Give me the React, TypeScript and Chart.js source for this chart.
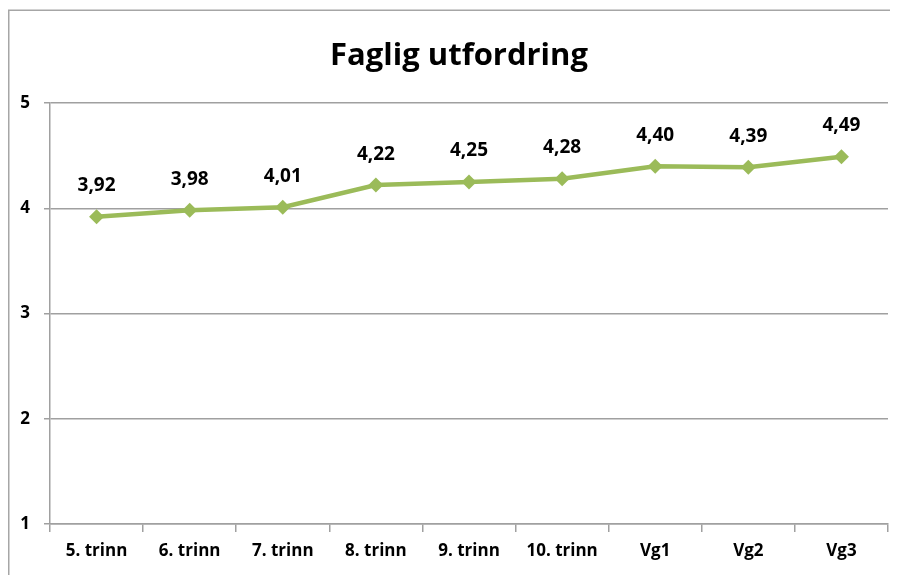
import React, { useEffect, useRef } from "react";
import { Chart, registerables } from "chart.js";

Chart.register(...registerables);

const categories = ["5. trinn", "6. trinn", "7. trinn", "8. trinn", "9. trinn", "10. trinn", "Vg1", "Vg2", "Vg3"];
const values = [3.92, 3.98, 4.01, 4.22, 4.25, 4.28, 4.4, 4.39, 4.49];
const titleText = "Faglig utfordring";
const yMin = 1;
const yMax = 5;

const FONT = "'Open Sans', 'Noto Sans', sans-serif";
const GREEN = "#9BBB59";
const GRID = "#a0a0a0";

const framePlugin = {
  id: "frame",
  beforeDraw(chart: any) {
    const ctx = chart.ctx;
    ctx.save();
    ctx.strokeStyle = "#a6a6a6";
    ctx.lineWidth = 1.5;
    ctx.beginPath();
    ctx.moveTo(0.75, chart.height);
    ctx.lineTo(0.75, 2.25);
    ctx.lineTo(chart.width, 2.25);
    ctx.stroke();
    ctx.restore();
  },
};

const titlePlugin = {
  id: "customTitle",
  afterDraw(chart: any) {
    const ctx = chart.ctx;
    ctx.save();
    ctx.font = `bold 31px ${FONT}`;
    ctx.fillStyle = "#000";
    ctx.textAlign = "center";
    ctx.textBaseline = "middle";
    ctx.fillText(titleText, 451, 48);
    ctx.restore();
  },
};

const labelPlugin = {
  id: "valueLabels",
  afterDatasetsDraw(chart: any) {
    const ctx = chart.ctx;
    const meta = chart.getDatasetMeta(0);
    ctx.save();
    ctx.font = `bold 19px ${FONT}`;
    ctx.fillStyle = "#000";
    ctx.textAlign = "center";
    ctx.textBaseline = "middle";
    meta.data.forEach((pt: any, i: number) => {
      const v = chart.data.datasets[0].data[i] as number;
      ctx.fillText(v.toFixed(2).replace(".", ","), pt.x, pt.y - 31);
    });
    ctx.restore();
  },
};

export default function App() {
  const ref = useRef<HTMLCanvasElement>(null);
  useEffect(() => {
    if (!ref.current) return;
    const chart = new Chart(ref.current, {
      type: "line",
      data: {
        labels: categories,
        datasets: [
          {
            data: values,
            borderColor: GREEN,
            backgroundColor: GREEN,
            borderWidth: 4.5,
            pointStyle: "rectRot",
            pointRadius: 7.5,
            pointBackgroundColor: GREEN,
            pointBorderColor: GREEN,
            pointBorderWidth: 0,
            tension: 0,
          },
        ],
      },
      options: {
        animation: false,
        responsive: true,
        maintainAspectRatio: false,
        layout: { padding: { left: 0, right: 10, top: 95, bottom: 0 } },
        plugins: {
          legend: { display: false },
          tooltip: { enabled: false },
          title: { display: false },
        },
        scales: {
          x: {
            offset: true,
            grid: {
              display: true,
              drawOnChartArea: false,
              drawTicks: true,
              tickLength: 8,
              color: GRID,
              lineWidth: 1.5,
              offset: true,
            },
            border: { display: true, color: GRID, width: 1.5 },
            ticks: {
              color: "#000",
              padding: 9,
              font: { family: FONT, size: 17, weight: "bold" },
              maxRotation: 0,
            },
            afterFit(scale: any) {
              scale.height = 51;
            },
          },
          y: {
            min: yMin,
            max: yMax,
            ticks: {
              stepSize: 1,
              color: "#000",
              padding: 14,
              font: { family: FONT, size: 17, weight: "bold" },
            },
            grid: { color: GRID, lineWidth: 1.5, tickLength: 6 },
            border: { display: true, color: GRID, width: 1.5 },
            afterFit(scale: any) {
              scale.width = 42;
            },
          },
        },
      },
      plugins: [framePlugin, labelPlugin, titlePlugin],
    });
    return () => chart.destroy();
  }, []);
  return (
    <div style={{ position: "relative", width: 890, height: 567 }}>
      <canvas ref={ref} />
    </div>
  );
}
